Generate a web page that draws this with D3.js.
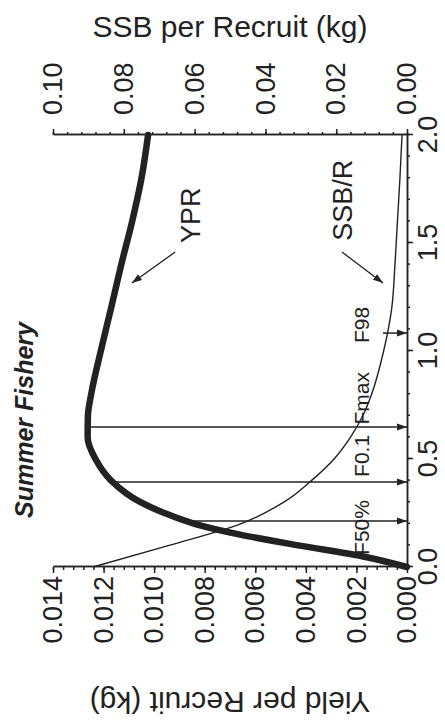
<!DOCTYPE html>
<html>
<head>
<meta charset="utf-8">
<script src="https://cdn.jsdelivr.net/npm/d3@7"></script>
<style>
html, body { margin: 0; padding: 0; background: #fff; }
svg { display: block; font-family: "Liberation Sans", Arial, Helvetica, sans-serif; }
</style>
</head>
<body>
<div id="chart"></div>
<script>
// values (F = fishing mortality)
var fishingMortality = [0, 0.05, 0.1, 0.15, 0.2, 0.25, 0.3, 0.4, 0.5, 0.6, 0.7, 0.8, 1.0, 1.2, 1.4, 1.6, 1.8, 2.0];
var yprValues = [0, 0.00178, 0.0043, 0.0066, 0.0084, 0.0096, 0.01054, 0.0117, 0.01232, 0.01263, 0.01262, 0.01249, 0.01211, 0.0117, 0.0113, 0.01087, 0.0105, 0.01024];

var ssbF = [0, 0.1, 0.2, 0.3, 0.4, 0.5, 0.6, 0.7, 0.8, 1.0, 1.2, 1.4, 1.6, 1.8, 2.0];
var ssbValues = [0.0887, 0.0672, 0.047, 0.0348, 0.027, 0.0206, 0.016, 0.0125, 0.0100, 0.0066, 0.0043, 0.0034, 0.0027, 0.0020, 0.0014];

var fTicks = [0, 0.5, 1.0, 1.5, 2.0];
var yprTicks = [0, 0.002, 0.004, 0.006, 0.008, 0.010, 0.012, 0.014];
var ssbTicks = [0, 0.02, 0.04, 0.06, 0.08, 0.10];

// reference points: where the arrow sits, where it starts, which curve it starts on
var refNames = ["F50%", "F0.1", "Fmax", "F98"];
var refF = [0.213, 0.394, 0.648, 1.083];
var refTop = [0.00886, 0.01167, 0.01264, 0.0068];
var refCurve = ["ypr", "ypr", "ypr", "ssb"];
var refLabelF = [0.056, 0.417, 0.66, 1.037];

var W = 445, H = 721;
var ink = "#222";

// the figure is printed sideways, so draw it upright and turn the whole thing
var chartW = H, chartH = W;
var margin = {top: 53, right: 135, bottom: 38, left: 154};
var width = chartW - margin.left - margin.right;
var height = chartH - margin.top - margin.bottom;

var svg = d3.select("#chart").append("svg")
    .attr("width", W)
    .attr("height", H);

var defs = svg.append("defs");
defs.append("marker")
    .attr("id", "head")
    .attr("viewBox", "0 -4 10 8")
    .attr("refX", 10)
    .attr("refY", 0)
    .attr("markerWidth", 10)
    .attr("markerHeight", 8)
    .attr("markerUnits", "userSpaceOnUse")
    .attr("orient", "auto")
  .append("path")
    .attr("d", "M0,-3.5L10,0L0,3.5Z")
    .attr("fill", ink);

var page = svg.append("g")
    .attr("transform", "translate(0," + H + ") rotate(-90)");

var g = page.append("g")
    .attr("transform", "translate(" + margin.left + "," + margin.top + ")");

var x = d3.scaleLinear().domain([0, 2]).range([0, width]);
var yYield = d3.scaleLinear().domain([0, 0.014]).range([height, 0]);
var ySsb = d3.scaleLinear().domain([0, 0.10]).range([height, 0]);

function styleAxis(sel) {
  sel.attr("font-size", 27)
     .attr("font-family", null);
  sel.selectAll("path, line").attr("stroke", ink).attr("stroke-width", 1.5);
  sel.selectAll("text").attr("fill", ink);
}

// minor ticks first, then the labelled ones
g.append("g")
    .attr("transform", "translate(0," + height + ")")
    .call(d3.axisBottom(x).tickValues(d3.range(0, 2.001, 0.1)).tickSize(3).tickSizeOuter(0).tickFormat(""))
    .call(styleAxis);
g.append("g")
    .attr("transform", "translate(0," + height + ")")
    .call(d3.axisBottom(x).tickValues(fTicks).tickSize(6).tickSizeOuter(0).tickPadding(5).tickFormat(d3.format(".1f")))
    .call(styleAxis);

g.append("g")
    .call(d3.axisLeft(yYield).tickValues(d3.range(0, 0.01401, 0.0004)).tickSize(3).tickSizeOuter(0).tickFormat(""))
    .call(styleAxis);
g.append("g")
    .call(d3.axisLeft(yYield).tickValues(yprTicks).tickSize(6).tickSizeOuter(0).tickPadding(3).tickFormat(d3.format(".3f")))
    .call(styleAxis);

g.append("g")
    .attr("transform", "translate(" + width + ",0)")
    .call(d3.axisRight(ySsb).tickValues(d3.range(0, 0.1001, 0.004)).tickSize(3).tickSizeOuter(0).tickFormat(""))
    .call(styleAxis);
g.append("g")
    .attr("transform", "translate(" + width + ",0)")
    .call(d3.axisRight(ySsb).tickValues(ssbTicks).tickSize(6).tickSizeOuter(0).tickPadding(14).tickFormat(d3.format(".2f")))
    .call(styleAxis);

// axis titles
page.append("text")
    .attr("transform", "translate(29," + (margin.top + height / 2) + ") rotate(-90)")
    .attr("text-anchor", "middle")
    .attr("font-size", 30)
    .attr("fill", ink)
    .text("Yield per Recruit (kg)");

page.append("text")
    .attr("transform", "translate(684," + (margin.top + height / 2) + ") rotate(90)")
    .attr("text-anchor", "middle")
    .attr("font-size", 30)
    .attr("fill", ink)
    .text("SSB per Recruit (kg)");

g.append("text")
    .attr("x", x(0.227))
    .attr("y", -20)
    .attr("font-size", 25)
    .attr("font-weight", "bold")
    .attr("font-style", "italic")
    .attr("fill", ink)
    .text("Summer Fishery");

// curves
var yprLine = d3.line()
    .x(function(d, i) { return x(fishingMortality[i]); })
    .y(function(d) { return yYield(d); })
    .curve(d3.curveMonotoneX);

var ssbLine = d3.line()
    .x(function(d, i) { return x(ssbF[i]); })
    .y(function(d) { return ySsb(d); })
    .curve(d3.curveMonotoneX);

g.append("path")
    .datum(ssbValues)
    .attr("d", ssbLine)
    .attr("fill", "none")
    .attr("stroke", ink)
    .attr("stroke-width", 1.4);

// reference arrows down to the F axis
refF.forEach(function(f, i) {
  var yTop = refCurve[i] === "ssb" ? ySsb(refTop[i]) : yYield(refTop[i]);
  g.append("line")
      .attr("x1", x(f)).attr("y1", yTop)
      .attr("x2", x(f)).attr("y2", height)
      .attr("stroke", ink)
      .attr("stroke-width", 1.5)
      .attr("marker-end", "url(#head)");
  g.append("text")
      .attr("x", x(refLabelF[i]))
      .attr("y", yYield(0.0015))
      .attr("font-size", 21)
      .attr("fill", ink)
      .text(refNames[i]);
});

g.append("path")
    .datum(yprValues)
    .attr("d", yprLine)
    .attr("fill", "none")
    .attr("stroke", ink)
    .attr("stroke-width", 6.5)
    .attr("stroke-linecap", "round");

// curve labels with their pointers
g.append("text")
    .attr("x", x(1.5))
    .attr("y", yYield(0.0082))
    .attr("font-size", 27)
    .attr("fill", ink)
    .text("YPR");

g.append("line")
    .attr("x1", x(1.458)).attr("y1", yYield(0.00917))
    .attr("x2", x(1.315)).attr("y2", yYield(0.01088))
    .attr("stroke", ink)
    .attr("stroke-width", 1.3)
    .attr("marker-end", "url(#head)");

g.append("text")
    .attr("x", x(1.51))
    .attr("y", ySsb(0.0155))
    .attr("font-size", 27)
    .attr("fill", ink)
    .text("SSB/R");

g.append("line")
    .attr("x1", x(1.458)).attr("y1", ySsb(0.01836))
    .attr("x2", x(1.315)).attr("y2", ySsb(0.00678))
    .attr("stroke", ink)
    .attr("stroke-width", 1.3)
    .attr("marker-end", "url(#head)");
</script>
</body>
</html>
